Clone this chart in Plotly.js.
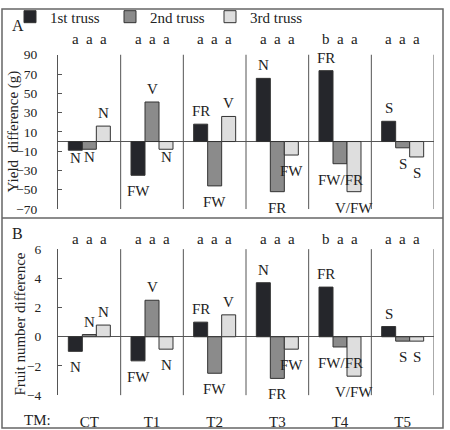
<!DOCTYPE html>
<html>
<head>
<meta charset="utf-8">
<script src="https://cdn.plot.ly/plotly-3.0.1.min.js"></script>
<style>html,body{margin:0;padding:0;background:#fff;}#chart{width:450px;height:430px;}</style>
</head>
<body>
<div id="chart"></div>
<script>
// ---- data ----
const categories = ['CT', 'T1', 'T2', 'T3', 'T4', 'T5'];
const seriesNames = ['1st truss', '2nd truss', '3rd truss'];

const yield1 = [-9, -35, 18, 65.5, 73.5, 21];
const yield2 = [-8, 41, -46, -52, -23, -6.5];
const yield3 = [16, -8, 26, -14, -52, -16];

const fruit1 = [-1.0, -1.65, 1.0, 3.7, 3.4, 0.7];
const fruit2 = [0.15, 2.5, -2.5, -2.85, -0.7, -0.3];
const fruit3 = [0.8, -0.85, 1.5, -0.85, -2.7, -0.3];

const labels1 = ['N', 'FW', 'FR', 'N', 'FR', 'S'];
const labels2 = ['N', 'V', 'FW', 'FR', 'FW/FR', 'S'];
const labels3 = ['N', 'N', 'V', 'FW', 'V/FW', 'S'];

const letters1 = ['a', 'a', 'a', 'a', 'b', 'a'];
const letters2 = ['a', 'a', 'a', 'a', 'a', 'a'];
const letters3 = ['a', 'a', 'a', 'a', 'a', 'a'];

const yieldTicks = [-70, -50, -30, -10, 10, 30, 50, 70, 90];
const fruitTicks = [-4, -2, 0, 2, 4, 6];

// ---- style ----
const W = 450, H = 430;
const FONT = '"Liberation Serif", "Times New Roman", "DejaVu Serif", serif';
const TXT = '#222';
const LINE = '#555';
const colors = ['#25262b', '#8b8b8b', '#dedede'];
const BARGAP = 0.33;
const bw = (1 - BARGAP) / 3;
const px = v => v / W, py = v => 1 - v / H;

const xDom = [px(58), px(434)];
const yDomA = [py(208), py(53)];
const yDomB = [py(395), py(248.3)];

const yieldSeries = [yield1, yield2, yield3];
const fruitSeries = [fruit1, fruit2, fruit3];
const labelSeries = [labels1, labels2, labels3];
const letterSeries = [letters1, letters2, letters3];

const traces = [];
yieldSeries.forEach((vals, j) => traces.push({
  type: 'bar', x: categories, y: vals, name: seriesNames[j], xaxis: 'x', yaxis: 'y',
  marker: {color: colors[j], line: {color: '#333', width: 1}}, hoverinfo: 'x+y'
}));
fruitSeries.forEach((vals, j) => traces.push({
  type: 'bar', x: categories, y: vals, name: seriesNames[j], xaxis: 'x2', yaxis: 'y2', showlegend: false,
  marker: {color: colors[j], line: {color: '#333', width: 1}}, hoverinfo: 'x+y'
}));

const annotations = [];
const shapes = [];
// closer placement for a few small negative bars in panel A
const closeA = {'0-0': true, '0-1': true, '1-2': true};

function addPanel(series, xref, yref, letterY, panelKey) {
  series.forEach((vals, j) => {
    vals.forEach((v, i) => {
      const xi = i + (j - 1) * bw;
      let ys = v >= 0 ? 13 : -16;
      if (panelKey === 'A' && closeA[i + '-' + j]) ys = -8;
      annotations.push({
        x: xi, y: v, xref: xref, yref: yref, text: labelSeries[j][i], showarrow: false,
        yanchor: 'middle', xanchor: 'center', yshift: ys,
        font: {family: FONT, size: 15, color: TXT}
      });
      annotations.push({
        x: xi, y: letterY, xref: xref, yref: 'paper', text: letterSeries[j][i], showarrow: false,
        yanchor: 'middle', xanchor: 'center',
        font: {family: FONT, size: 15, color: TXT}
      });
    });
  });
  for (let i = 0; i < categories.length; i++) {
    shapes.push({type: 'line', xref: xref, yref: yref + ' domain', x0: i + 0.5, x1: i + 0.5, y0: 0, y1: 1,
      line: {color: LINE, width: 1}});
  }
}
addPanel(yieldSeries, 'x', 'y', py(37), 'A');
addPanel(fruitSeries, 'x2', 'y2', py(238), 'B');

// frame and divider
shapes.push({type: 'rect', xref: 'paper', yref: 'paper', x0: px(2), x1: px(443), y0: py(428), y1: py(7),
  line: {color: '#666', width: 1.5}});
shapes.push({type: 'line', xref: 'paper', yref: 'paper', x0: px(2), x1: px(443), y0: py(217), y1: py(217),
  line: {color: '#666', width: 1.5}});

function paperText(text, x, y, size, angle) {
  annotations.push({x: px(x), y: py(y), xref: 'paper', yref: 'paper', text: text, showarrow: false,
    xanchor: 'center', yanchor: 'middle', textangle: angle || 0,
    font: {family: FONT, size: size, color: TXT}});
}
paperText('A', 18, 24, 16);
paperText('B', 17, 233, 16);
paperText('Yield  difference (g)', 13, 130, 15, -90);
paperText('Fruit number difference', 20, 324, 15, -90);
paperText('TM:', 37, 420, 15);

const yAxisCommon = {
  showgrid: false, zeroline: true, zerolinecolor: LINE, zerolinewidth: 1,
  showline: true, linecolor: LINE, linewidth: 1, ticks: 'inside', ticklen: 4, tickcolor: LINE,
  tickfont: {family: FONT, size: 13.5, color: TXT}, fixedrange: true
};

const layout = {
  width: W, height: H, margin: {l: 0, r: 0, t: 0, b: 0},
  paper_bgcolor: '#fff', plot_bgcolor: 'rgba(0,0,0,0)',
  barmode: 'group', bargap: BARGAP, bargroupgap: 0,
  font: {family: FONT, size: 15, color: TXT},
  showlegend: true,
  legend: {orientation: 'h', x: px(10), y: py(15), xanchor: 'left', yanchor: 'middle',
    font: {family: FONT, size: 15, color: TXT}, bgcolor: 'rgba(0,0,0,0)',
    entrywidth: 55, itemwidth: 30, traceorder: 'normal'},
  xaxis: {domain: xDom, anchor: 'y', range: [-0.5, 5.5], type: 'category', showticklabels: false,
    showline: false, ticks: '', showgrid: false, zeroline: false, fixedrange: true},
  yaxis: Object.assign({}, yAxisCommon, {domain: yDomA, anchor: 'x', range: [-70, 90], tickvals: yieldTicks,
    ticklabelstandoff: 17}),
  xaxis2: {domain: xDom, anchor: 'y2', range: [-0.5, 5.5], type: 'category', showticklabels: true,
    showline: false, ticks: '', showgrid: false, zeroline: false, fixedrange: true,
    tickfont: {family: FONT, size: 15, color: TXT}, ticklabelstandoff: 16},
  yaxis2: Object.assign({}, yAxisCommon, {domain: yDomB, anchor: 'x2', range: [-4, 6], tickvals: fruitTicks,
    ticklabelstandoff: 13}),
  annotations: annotations,
  shapes: shapes
};

Plotly.newPlot('chart', traces, layout, {displayModeBar: false, staticPlot: true});
</script>
</body>
</html>
